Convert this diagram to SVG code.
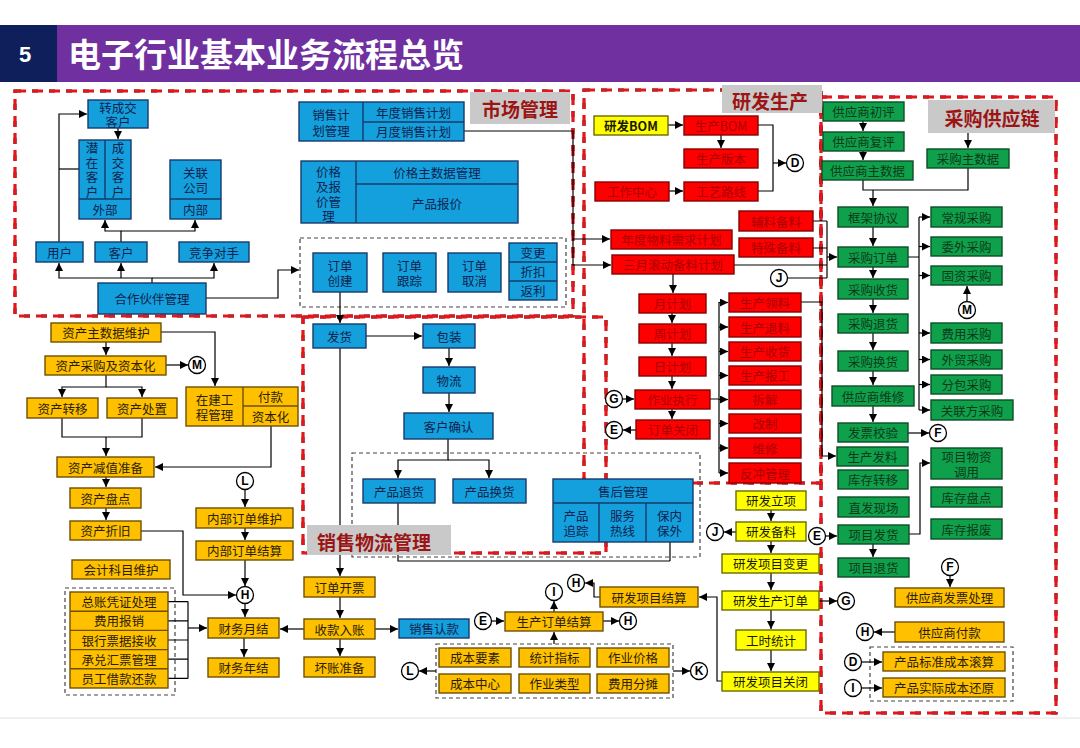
<svg xmlns="http://www.w3.org/2000/svg" width="1080" height="748" viewBox="0 0 1080 748">
<defs>
<marker id="ar" viewBox="0 0 10 10" refX="10" refY="5" markerWidth="8" markerHeight="8" markerUnits="userSpaceOnUse" orient="auto"><path d="M0,0 L10,5 L0,10 z" fill="#000"/></marker>
<style>
.n text{font-family:"Noto Sans CJK SC","Noto Sans",sans-serif;font-size:12.5px;text-anchor:middle;dominant-baseline:central}
.n rect,.n line{stroke-width:1.4}
.nb rect{fill:#14a0dc;stroke:#173a6b}.nb line{stroke:#173a6b}.nb text{fill:#0f2350}
.no rect{fill:#ffc000;stroke:#6e5000}.no line{stroke:#6e5000}.no text{fill:#2b1d00}
.nr rect{fill:#ff0000;stroke:#8b0000}.nr text{fill:#a80000}
.ng rect{fill:#0fa04b;stroke:#0b4d25}.ng text{fill:#0c3a1a}
.ny rect{fill:#ffff00;stroke:#6b6b00}.ny text{fill:#1a1a00}
.vt{writing-mode:vertical-rl;letter-spacing:2px}
.c path{fill:none;stroke:#000;stroke-width:1.2}
.c .a{marker-end:url(#ar)}
.dash{fill:none;stroke:#444;stroke-width:1.2;stroke-dasharray:4 3}
.rb{fill:none;stroke:#111;stroke-width:3}
.rr{fill:none;stroke:#e3161b;stroke-width:3.2;stroke-dasharray:11 6}
.lab rect{fill:#c9c9c9}
.lab text{font-family:"Noto Sans CJK SC","Noto Sans",sans-serif;font-size:19px;font-weight:bold;fill:#9c1515;text-anchor:middle;dominant-baseline:central}
.ref circle{fill:#fff;stroke:#000;stroke-width:1.3}
.ref text{font-family:"Liberation Sans",Arial,sans-serif;font-size:12px;font-weight:bold;text-anchor:middle;dominant-baseline:central;fill:#000}
</style>
</defs>
<rect width="1080" height="748" fill="#fff"/>
<g id="header">
<rect x="0" y="25" width="1080" height="57" fill="#7030a0"/>
<rect x="0" y="25" width="57" height="57" fill="#0e1f5b"/>
<text x="25" y="54" font-family="Liberation Sans,Arial,sans-serif" font-size="22" font-weight="bold" fill="#fff" text-anchor="middle" dominant-baseline="central">5</text>
<text x="68" y="53" font-family="Noto Sans CJK SC,Noto Sans,sans-serif" font-size="33" font-weight="bold" fill="#fff" dominant-baseline="central">电子行业基本业务流程总览</text>
</g>
<line x1="0" y1="718" x2="1080" y2="718" stroke="#e2e2e2" stroke-width="1"/>

<g id="regions">
<rect class="rb" x="15" y="91" width="558" height="225" stroke-dasharray="6 11"/>
<rect class="rr" x="15" y="91" width="558" height="225"/>
<rect class="rb" x="584" y="90" width="237" height="393" stroke-dasharray="6 11"/>
<rect class="rr" x="584" y="90" width="237" height="393"/>
<rect class="rb" x="303" y="317" width="303" height="236" stroke-dasharray="6 11"/>
<rect class="rr" x="303" y="317" width="303" height="236"/>
<rect class="rb" x="821" y="97" width="235" height="616" stroke-dasharray="6 11"/>
<rect class="rr" x="821" y="97" width="235" height="616"/>
</g>

<g id="dashboxes">
<rect class="dash" x="300" y="238" width="266" height="69"/>
<rect class="dash" x="352" y="453" width="348" height="104"/>
<rect class="dash" x="65" y="588" width="110" height="107"/>
<rect class="dash" x="436" y="644" width="237" height="54"/>
<rect class="dash" x="870" y="647" width="143" height="54"/>
</g>

<g id="connectors" class="c">
<path class="a" d="M152,283 V278 H59 V263"/>
<path class="a" d="M152,278 H214 V263"/>
<path class="a" d="M121,278 V263"/>
<path class="a" d="M121,242 V231 H105 V220"/>
<path class="a" d="M121,231 H195 V220"/>
<path class="a" d="M59,242 V114 H87"/>
<path d="M59,169 H79"/>
<path class="a" d="M118,128 V139"/>
<path class="a" d="M206,298 H278 V270 H299"/>
<path class="a" d="M464,131 H573 V239 H610"/>
<path class="a" d="M573,239 V265 H611"/>
<path class="a" d="M668,125 H683"/>
<path class="a" d="M721,135 V148"/>
<path class="a" d="M669,191 H683"/>
<path d="M758,125 H773 V191 H758"/>
<path class="a" d="M773,163 H786"/>
<path d="M813,221 H827 M813,248 H827 M734,265 H827 M787.5,278 H827 M827,221 V278"/>
<path class="a" d="M827,257 H837"/>
<path class="a" d="M673,274 V293"/>
<path class="a" d="M672,313 V323"/>
<path class="a" d="M672,343 V356"/>
<path class="a" d="M672,376 V389"/>
<path class="a" d="M672,409 V419"/>
<path class="a" d="M622.5,399 H634"/>
<path class="a" d="M636,430 H623"/>
<path d="M710,399 H719 M719,302 V473"/>
<path class="a" d="M719,302.5 H728"/>
<path class="a" d="M719,327 H728"/>
<path class="a" d="M719,351.5 H728"/>
<path class="a" d="M719,375.5 H728"/>
<path class="a" d="M719,399.5 H728"/>
<path class="a" d="M719,423.5 H728"/>
<path class="a" d="M719,448 H728"/>
<path class="a" d="M719,473 H728"/>
<path class="a" d="M801,302 H822 V456 H836"/>
<path class="a" d="M968,133 V148"/>
<path class="a" d="M863,121 V131"/>
<path class="a" d="M863,151 V160"/>
<path d="M863,180 V190 H968 V168"/>
<path class="a" d="M873,190 V206"/>
<path class="a" d="M873,227 V246"/>
<path class="a" d="M873,267 V278"/>
<path class="a" d="M873,299 V313"/>
<path class="a" d="M873,333 V350"/>
<path class="a" d="M873,371 V385"/>
<path class="a" d="M873,406 V422"/>
<path d="M908,257 H919 M919,217 V410"/>
<path class="a" d="M919,217 H930"/>
<path class="a" d="M919,246.5 H930"/>
<path class="a" d="M919,275.5 H930"/>
<path class="a" d="M919,333 H930"/>
<path class="a" d="M919,359.5 H930"/>
<path class="a" d="M919,384.5 H930"/>
<path class="a" d="M919,410 H930"/>
<path class="a" d="M967,301.5 V286"/>
<path class="a" d="M908,433 H929"/>
<path class="a" d="M825.5,536 H837"/>
<path class="a" d="M873,544 V557"/>
<path class="a" d="M909,534 H920 V463 H930"/>
<path class="a" d="M950,575.5 V587"/>
<path class="a" d="M895,632 H874"/>
<path class="a" d="M861.5,662 H882"/>
<path class="a" d="M861.5,688 H882"/>
<path class="a" d="M771,510 V521"/>
<path class="a" d="M771,541 V553"/>
<path class="a" d="M771,573 V590"/>
<path class="a" d="M771,610 V629"/>
<path class="a" d="M771,650 V671"/>
<path class="a" d="M736,532 H724"/>
<path class="a" d="M819,601 H837"/>
<path class="a" d="M722,681 H717 V597 H699"/>
<path class="a" d="M340,292 V323"/>
<path class="a" d="M366,336 H422"/>
<path class="a" d="M449,348 V366"/>
<path class="a" d="M449,393 V412"/>
<path class="a" d="M448,439 V460 H398 V478"/>
<path class="a" d="M448,460 H489 V478"/>
<path class="a" d="M340,348 V576"/>
<path d="M398,503 V561 H670 M670,542 V561"/>
<path class="a" d="M340,597 V618"/>
<path class="a" d="M340,639 V656"/>
<path class="a" d="M375,629 H398"/>
<path class="a" d="M304,629 H280"/>
<path class="a" d="M491.5,621 H504"/>
<path class="a" d="M603,621 H619"/>
<path class="a" d="M554,612 V601"/>
<path class="a" d="M554,644 V632"/>
<path class="a" d="M436,671 H419"/>
<path class="a" d="M673,671 H690"/>
<path class="a" d="M600,597 H594 V583 H585"/>
<path class="a" d="M106,342 V355"/>
<path class="a" d="M106,375 V387 H62 V397"/>
<path class="a" d="M106,387 H142 V397"/>
<path d="M62,418 V437 H142 V418"/>
<path class="a" d="M106,437 V456"/>
<path class="a" d="M161,332 H215 V386"/>
<path class="a" d="M271,426 V467 H155"/>
<path class="a" d="M166,365 H188"/>
<path class="a" d="M106,477 V487"/>
<path class="a" d="M106,508 V520"/>
<path class="a" d="M245,489.5 V507"/>
<path class="a" d="M245,528 V540"/>
<path class="a" d="M245,560 V586"/>
<path class="a" d="M141,531 H183 V595 H236"/>
<path class="a" d="M245,603.5 V617"/>
<path d="M168,601.6 H188 M168,620.8 H188 M168,640 H188 M168,659.2 H188 M168,678.4 H188 M188,601.6 V678.4"/>
<path class="a" d="M188,628 H207"/>
<path class="a" d="M244,638 V657"/>
</g>

<g id="labels" class="lab">
<g id="lab_market"><rect x="470" y="92" width="100" height="32"/><text x="520" y="108">市场管理</text></g>
<g id="lab_rd"><rect x="722" y="85" width="100" height="28"/><text x="770" y="100">研发生产</text></g>
<g id="lab_purchase"><rect x="928" y="100" width="127" height="33"/><text x="992" y="117">采购供应链</text></g>
<g id="lab_sales"><rect x="307" y="525" width="144" height="30"/><text x="374" y="541">销售物流管理</text></g>
</g>

<g id="refs" class="ref">
<g id="r_m1"><circle cx="197" cy="365" r="8.5"/><text x="197" y="365">M</text></g>
<g id="r_m2"><circle cx="967" cy="310" r="8.5"/><text x="967" y="310">M</text></g>
<g id="r_d1"><circle cx="795" cy="163" r="8.5"/><text x="795" y="163">D</text></g>
<g id="r_j1"><circle cx="779" cy="278" r="8.5"/><text x="779" y="278">J</text></g>
<g id="r_g1"><circle cx="614" cy="399" r="8.5"/><text x="614" y="399">G</text></g>
<g id="r_e1"><circle cx="614" cy="430" r="8.5"/><text x="614" y="430">E</text></g>
<g id="r_f1"><circle cx="938" cy="433" r="8.5"/><text x="938" y="433">F</text></g>
<g id="r_e2"><circle cx="817" cy="536" r="8.5"/><text x="817" y="536">E</text></g>
<g id="r_j2"><circle cx="715" cy="532" r="8.5"/><text x="715" y="532">J</text></g>
<g id="r_g2"><circle cx="846" cy="601" r="8.5"/><text x="846" y="601">G</text></g>
<g id="r_l1"><circle cx="245" cy="481" r="8.5"/><text x="245" y="481">L</text></g>
<g id="r_h1"><circle cx="245" cy="595" r="8.5"/><text x="245" y="595">H</text></g>
<g id="r_e3"><circle cx="483" cy="621" r="8.5"/><text x="483" y="621">E</text></g>
<g id="r_h2"><circle cx="628" cy="621" r="8.5"/><text x="628" y="621">H</text></g>
<g id="r_i1"><circle cx="554" cy="592" r="8.5"/><text x="554" y="592">I</text></g>
<g id="r_h3"><circle cx="576" cy="583" r="8.5"/><text x="576" y="583">H</text></g>
<g id="r_l2"><circle cx="410" cy="671" r="8.5"/><text x="410" y="671">L</text></g>
<g id="r_k1"><circle cx="699" cy="671" r="8.5"/><text x="699" y="671">K</text></g>
<g id="r_f2"><circle cx="950" cy="567" r="8.5"/><text x="950" y="567">F</text></g>
<g id="r_h4"><circle cx="865" cy="632" r="8.5"/><text x="865" y="632">H</text></g>
<g id="r_d2"><circle cx="853" cy="662" r="8.5"/><text x="853" y="662">D</text></g>
<g id="r_i2"><circle cx="853" cy="688" r="8.5"/><text x="853" y="688">I</text></g>
</g>

<!-- market nodes -->
<g id="n_zhuanchengjiao" class="n nb"><rect x="88" y="100" width="60" height="28"/><text x="118" y="107.5">转成交<tspan x="118" dy="13.5">客户</tspan></text></g>
<g id="n_waibu" class="n nb"><rect x="79" y="140" width="52" height="79"/><line x1="105" y1="140" x2="105" y2="199"/><line x1="79" y1="199" x2="131" y2="199"/>
<text class="vt" x="92" y="171">潜在客户</text>
<text class="vt" x="118" y="171">成交客户</text>
<text x="105" y="209">外部</text></g>
<g id="n_neibu" class="n nb"><rect x="170" y="160" width="51" height="59"/><line x1="170" y1="199" x2="221" y2="199"/><text x="195.5" y="172">关联<tspan x="195.5" dy="15">公司</tspan></text><text x="195.5" y="209">内部</text></g>
<g id="n_yonghu" class="n nb"><rect x="36" y="242" width="47" height="20"/><text x="59.5" y="252">用户</text></g>
<g id="n_kehu" class="n nb"><rect x="95" y="242" width="52" height="20"/><text x="121" y="252">客户</text></g>
<g id="n_jingzheng" class="n nb"><rect x="179" y="242" width="70" height="20"/><text x="214" y="252">竞争对手</text></g>
<g id="n_hezuo" class="n nb"><rect x="98" y="283" width="108" height="31"/><text x="152" y="298.5">合作伙伴管理</text></g>
<g id="n_xiaoshoujihua" class="n nb"><rect x="299" y="102" width="165" height="39"/><line x1="363" y1="102" x2="363" y2="141"/><line x1="363" y1="122" x2="464" y2="122"/><text x="331" y="114">销售计<tspan x="331" dy="16">划管理</tspan></text><text x="413.5" y="112">年度销售计划</text><text x="413.5" y="131.5">月度销售计划</text></g>
<g id="n_jiage" class="n nb"><rect x="301" y="161" width="217" height="62"/><line x1="356" y1="161" x2="356" y2="223"/><line x1="356" y1="184" x2="518" y2="184"/><text x="328.5" y="171">价格<tspan x="328.5" dy="15">及报</tspan><tspan x="328.5" dy="15">价管</tspan><tspan x="328.5" dy="14">理</tspan></text><text x="437" y="172.5">价格主数据管理</text><text x="437" y="203.5">产品报价</text></g>
<g id="n_dingdanchuangjian" class="n nb"><rect x="313" y="253" width="54" height="39"/><text x="340" y="265.5">订单<tspan x="340" dy="14.5">创建</tspan></text></g>
<g id="n_dingdangenzong" class="n nb"><rect x="383" y="253" width="53" height="39"/><text x="409.5" y="265.5">订单<tspan x="409.5" dy="14.5">跟踪</tspan></text></g>
<g id="n_dingdanquxiao" class="n nb"><rect x="448" y="253" width="53" height="39"/><text x="474.5" y="265.5">订单<tspan x="474.5" dy="14.5">取消</tspan></text></g>
<g id="n_biangeng" class="n nb"><rect x="509" y="243" width="48" height="57"/><line x1="509" y1="262" x2="557" y2="262"/><line x1="509" y1="281" x2="557" y2="281"/><text x="533" y="252.5">变更</text><text x="533" y="271.5">折扣</text><text x="533" y="290.5">返利</text></g>

<!-- R&D nodes -->
<g id="n_yanfabom" class="n ny"><rect x="594" y="116" width="74" height="19"/><text x="631" y="125.5" font-weight="bold">研发BOM</text></g>
<g id="n_shengchanbom" class="n nr"><rect x="684" y="116" width="74" height="19"/><text x="721" y="125.5">生产BOM</text></g>
<g id="n_shengchanbanben" class="n nr"><rect x="684" y="149" width="74" height="19"/><text x="721" y="158.5">生产版本</text></g>
<g id="n_gongzuozhongxin" class="n nr"><rect x="595" y="182" width="74" height="19"/><text x="632" y="191.5">工作中心</text></g>
<g id="n_gongyiluxian" class="n nr"><rect x="684" y="182" width="74" height="19"/><text x="721" y="191.5">工艺路线</text></g>
<g id="n_fuliao" class="n nr"><rect x="739" y="211" width="74" height="20"/><text x="776" y="221">辅料备料</text></g>
<g id="n_teshu" class="n nr"><rect x="739" y="238" width="74" height="19"/><text x="776" y="247.5">特殊备料</text></g>
<g id="n_niandu" class="n nr"><rect x="611" y="230" width="121" height="19"/><text x="671.5" y="239.5">年度物料需求计划</text></g>
<g id="n_sanyue" class="n nr"><rect x="612" y="255" width="122" height="19"/><text x="673" y="264.5">三月滚动备料计划</text></g>
<g id="n_yuejihua" class="n nr"><rect x="639" y="294" width="67" height="19"/><text x="672.5" y="303.5">月计划</text></g>
<g id="n_zhoujihua" class="n nr"><rect x="639" y="324" width="67" height="19"/><text x="672.5" y="333.5">周计划</text></g>
<g id="n_rijihua" class="n nr"><rect x="639" y="357" width="67" height="19"/><text x="672.5" y="366.5">日计划</text></g>
<g id="n_zuoye" class="n nr"><rect x="635" y="390" width="75" height="19"/><text x="672.5" y="399.5">作业执行</text></g>
<g id="n_dingdanguanbi" class="n nr"><rect x="636" y="420" width="74" height="19"/><text x="673" y="429.5">订单关闭</text></g>
<g id="n_lingliao" class="n nr"><rect x="729" y="293" width="72" height="19"/><text x="765" y="302.5">生产领料</text></g>
<g id="n_tuiliao" class="n nr"><rect x="729" y="317" width="72" height="20"/><text x="765" y="327">生产退料</text></g>
<g id="n_shouhuo" class="n nr"><rect x="729" y="342" width="72" height="19"/><text x="765" y="351.5">生产收货</text></g>
<g id="n_baogong" class="n nr"><rect x="729" y="366" width="72" height="19"/><text x="765" y="375.5">生产报工</text></g>
<g id="n_chaijie" class="n nr"><rect x="729" y="390" width="72" height="19"/><text x="765" y="399.5">拆解</text></g>
<g id="n_gaizhi" class="n nr"><rect x="729" y="414" width="72" height="19"/><text x="765" y="423.5">改制</text></g>
<g id="n_weixiu" class="n nr"><rect x="729" y="438" width="72" height="20"/><text x="765" y="448">维修</text></g>
<g id="n_fanchong" class="n nr"><rect x="729" y="463" width="72" height="20"/><text x="765" y="473">反冲管理</text></g>

<!-- purchase nodes -->
<g id="n_chuping" class="n ng"><rect x="823" y="102" width="81" height="19"/><text x="863.5" y="111.5">供应商初评</text></g>
<g id="n_fuping" class="n ng"><rect x="823" y="132" width="81" height="19"/><text x="863.5" y="141.5">供应商复评</text></g>
<g id="n_gyszsj" class="n ng"><rect x="822" y="161" width="91" height="19"/><text x="867.5" y="170.5">供应商主数据</text></g>
<g id="n_cgzsj" class="n ng"><rect x="927" y="149" width="82" height="19"/><text x="968" y="158.5">采购主数据</text></g>
<g id="n_kuangjia" class="n ng"><rect x="838" y="207" width="70" height="20"/><text x="873" y="217">框架协议</text></g>
<g id="n_caigoudingdan" class="n ng"><rect x="838" y="247" width="70" height="20"/><text x="873" y="257">采购订单</text></g>
<g id="n_caigoushouhuo" class="n ng"><rect x="838" y="279" width="70" height="20"/><text x="873" y="289">采购收货</text></g>
<g id="n_caigoutuihuo" class="n ng"><rect x="838" y="314" width="70" height="19"/><text x="873" y="323.5">采购退货</text></g>
<g id="n_caigouhuanhuo" class="n ng"><rect x="838" y="351" width="70" height="20"/><text x="873" y="361">采购换货</text></g>
<g id="n_gysweixiu" class="n ng"><rect x="832" y="386" width="82" height="20"/><text x="873" y="396">供应商维修</text></g>
<g id="n_fapiao" class="n ng"><rect x="838" y="423" width="70" height="19"/><text x="873" y="432.5">发票校验</text></g>
<g id="n_fafliao" class="n ng"><rect x="837" y="447" width="71" height="19"/><text x="872.5" y="456.5">生产发料</text></g>
<g id="n_kucunzhuanyi" class="n ng"><rect x="838" y="470" width="70" height="19"/><text x="873" y="479.5">库存转移</text></g>
<g id="n_zhifa" class="n ng"><rect x="838" y="497" width="71" height="20"/><text x="873.5" y="507">直发现场</text></g>
<g id="n_xiangmufahuo" class="n ng"><rect x="838" y="525" width="71" height="19"/><text x="873.5" y="534.5">项目发货</text></g>
<g id="n_xiangmutuihuo" class="n ng"><rect x="838" y="558" width="71" height="19"/><text x="873.5" y="567.5">项目退货</text></g>
<g id="n_changgui" class="n ng"><rect x="931" y="207" width="71" height="20"/><text x="966.5" y="217">常规采购</text></g>
<g id="n_weiwai" class="n ng"><rect x="931" y="237" width="71" height="19"/><text x="966.5" y="246.5">委外采购</text></g>
<g id="n_guzi" class="n ng"><rect x="931" y="266" width="71" height="19"/><text x="966.5" y="275.5">固资采购</text></g>
<g id="n_feiyong" class="n ng"><rect x="931" y="323" width="71" height="20"/><text x="966.5" y="333">费用采购</text></g>
<g id="n_waimao" class="n ng"><rect x="931" y="350" width="71" height="19"/><text x="966.5" y="359.5">外贸采购</text></g>
<g id="n_fenbao" class="n ng"><rect x="931" y="375" width="71" height="19"/><text x="966.5" y="384.5">分包采购</text></g>
<g id="n_guanlianfang" class="n ng"><rect x="931" y="400" width="82" height="20"/><text x="972" y="410">关联方采购</text></g>
<g id="n_xiangmuwuzi" class="n ng"><rect x="931" y="448" width="71" height="31"/><text x="966.5" y="456.5">项目物资<tspan x="966.5" dy="14.5">调用</tspan></text></g>
<g id="n_kucunpandian" class="n ng"><rect x="931" y="487" width="71" height="20"/><text x="966.5" y="497">库存盘点</text></g>
<g id="n_kucunbaofei" class="n ng"><rect x="931" y="519" width="71" height="20"/><text x="966.5" y="529">库存报废</text></g>
<g id="n_gysfapiao" class="n no"><rect x="895" y="588" width="109" height="19"/><text x="949.5" y="597.5">供应商发票处理</text></g>
<g id="n_gysfukuan" class="n no"><rect x="895" y="622" width="109" height="20"/><text x="949.5" y="632">供应商付款</text></g>
<g id="n_biaozhun" class="n no"><rect x="883" y="652" width="122" height="19"/><text x="944" y="661.5">产品标准成本滚算</text></g>
<g id="n_shiji" class="n no"><rect x="883" y="678" width="122" height="19"/><text x="944" y="687.5">产品实际成本还原</text></g>

<!-- R&D project (yellow) -->
<g id="n_yanfalixiang" class="n ny"><rect x="736" y="491" width="70" height="19"/><text x="771" y="500.5">研发立项</text></g>
<g id="n_yanfabeiliao" class="n ny"><rect x="736" y="522" width="70" height="19"/><text x="771" y="531.5">研发备料</text></g>
<g id="n_yanfabiangeng" class="n ny"><rect x="722" y="554" width="97" height="19"/><text x="770.5" y="563.5">研发项目变更</text></g>
<g id="n_yanfashengchan" class="n ny"><rect x="722" y="591" width="97" height="19"/><text x="770.5" y="600.5">研发生产订单</text></g>
<g id="n_gongshi" class="n ny"><rect x="736" y="630" width="70" height="20"/><text x="771" y="640">工时统计</text></g>
<g id="n_yanfaguanbi" class="n ny"><rect x="722" y="672" width="97" height="19"/><text x="770.5" y="681.5">研发项目关闭</text></g>

<!-- sales logistics nodes -->
<g id="n_fahuo" class="n nb"><rect x="313" y="324" width="53" height="24"/><text x="339.5" y="336">发货</text></g>
<g id="n_baozhuang" class="n nb"><rect x="423" y="324" width="52" height="24"/><text x="449" y="336">包装</text></g>
<g id="n_wuliu" class="n nb"><rect x="423" y="367" width="52" height="26"/><text x="449" y="380">物流</text></g>
<g id="n_kehuqueren" class="n nb"><rect x="404" y="413" width="89" height="26"/><text x="448.5" y="426">客户确认</text></g>
<g id="n_tuihuo" class="n nb"><rect x="363" y="479" width="72" height="24"/><text x="399" y="491">产品退货</text></g>
<g id="n_huanhuo" class="n nb"><rect x="453" y="479" width="73" height="24"/><text x="489.5" y="491">产品换货</text></g>
<g id="n_shouhou" class="n nb"><rect x="553" y="479" width="140" height="63"/><line x1="553" y1="503" x2="693" y2="503"/><line x1="599" y1="503" x2="599" y2="542"/><line x1="646" y1="503" x2="646" y2="542"/><text x="623" y="491">售后管理</text><text x="576" y="515">产品<tspan x="576" dy="15">追踪</tspan></text><text x="622.5" y="515">服务<tspan x="622.5" dy="15">热线</tspan></text><text x="669.5" y="515">保内<tspan x="669.5" dy="15">保外</tspan></text></g>
<g id="n_kaipiao" class="n no"><rect x="304" y="577" width="71" height="20"/><text x="339.5" y="587">订单开票</text></g>
<g id="n_shoukuan" class="n no"><rect x="304" y="619" width="71" height="20"/><text x="339.5" y="629">收款入账</text></g>
<g id="n_huaizhang" class="n no"><rect x="304" y="657" width="71" height="20"/><text x="339.5" y="667">坏账准备</text></g>
<g id="n_xiaoshourenkuan" class="n nb"><rect x="399" y="619" width="70" height="19"/><text x="434" y="628.5">销售认款</text></g>
<g id="n_shengchanjiesuan" class="n no"><rect x="505" y="612" width="98" height="19"/><text x="554" y="621.5">生产订单结算</text></g>
<g id="n_yanfajiesuan" class="n no"><rect x="600" y="587" width="98" height="20"/><text x="649" y="597">研发项目结算</text></g>
<g id="n_chengbenyaosu" class="n no"><rect x="439" y="648" width="72" height="19"/><text x="475" y="657.5">成本要素</text></g>
<g id="n_tongji" class="n no"><rect x="519" y="648" width="71" height="19"/><text x="554.5" y="657.5">统计指标</text></g>
<g id="n_zuoyejiage" class="n no"><rect x="597" y="648" width="72" height="19"/><text x="633" y="657.5">作业价格</text></g>
<g id="n_chengbenzhongxin" class="n no"><rect x="439" y="674" width="72" height="19"/><text x="475" y="683.5">成本中心</text></g>
<g id="n_zuoyeleixing" class="n no"><rect x="519" y="674" width="71" height="19"/><text x="554.5" y="683.5">作业类型</text></g>
<g id="n_feiyongfentan" class="n no"><rect x="597" y="674" width="72" height="19"/><text x="633" y="683.5">费用分摊</text></g>

<!-- finance nodes -->
<g id="n_zichanzhushuju" class="n no"><rect x="51" y="323" width="110" height="19"/><text x="106" y="332.5">资产主数据维护</text></g>
<g id="n_zichancaigou" class="n no"><rect x="45" y="356" width="121" height="19"/><text x="105.5" y="365.5">资产采购及资本化</text></g>
<g id="n_zichanzhuanyi" class="n no"><rect x="27" y="398" width="71" height="20"/><text x="62.5" y="408">资产转移</text></g>
<g id="n_zichanchuzhi" class="n no"><rect x="107" y="398" width="70" height="20"/><text x="142" y="408">资产处置</text></g>
<g id="n_zaijian" class="n no"><rect x="186" y="387" width="112" height="39"/><line x1="243" y1="387" x2="243" y2="426"/><line x1="243" y1="406" x2="298" y2="406"/><text x="214.5" y="399">在建工<tspan x="214.5" dy="15">程管理</tspan></text><text x="270.5" y="396.5">付款</text><text x="270.5" y="416">资本化</text></g>
<g id="n_jianzhi" class="n no"><rect x="57" y="457" width="97" height="20"/><text x="105.5" y="467">资产减值准备</text></g>
<g id="n_pandian" class="n no"><rect x="70" y="488" width="71" height="20"/><text x="105.5" y="498">资产盘点</text></g>
<g id="n_zhejiu" class="n no"><rect x="70" y="521" width="71" height="19"/><text x="105.5" y="530.5">资产折旧</text></g>
<g id="n_neibuweihu" class="n no"><rect x="196" y="508" width="97" height="20"/><text x="244.5" y="518">内部订单维护</text></g>
<g id="n_neibujiesuan" class="n no"><rect x="196" y="541" width="97" height="19"/><text x="244.5" y="550.5">内部订单结算</text></g>
<g id="n_kuaiji" class="n no"><rect x="72" y="560" width="98" height="19"/><text x="121" y="569.5">会计科目维护</text></g>
<g id="n_zongzhang" class="n no"><rect x="70" y="592" width="98" height="96"/><line x1="70" y1="611.2" x2="168" y2="611.2"/><line x1="70" y1="630.4" x2="168" y2="630.4"/><line x1="70" y1="649.6" x2="168" y2="649.6"/><line x1="70" y1="668.8" x2="168" y2="668.8"/><text x="119" y="601.6">总账凭证处理</text><text x="119" y="620.8">费用报销</text><text x="119" y="640">银行票据接收</text><text x="119" y="659.2">承兑汇票管理</text><text x="119" y="678.4">员工借款还款</text></g>
<g id="n_yuejie" class="n no"><rect x="208" y="618" width="71" height="20"/><text x="243.5" y="628">财务月结</text></g>
<g id="n_nianjie" class="n no"><rect x="208" y="658" width="71" height="19"/><text x="243.5" y="667.5">财务年结</text></g>
</svg>
